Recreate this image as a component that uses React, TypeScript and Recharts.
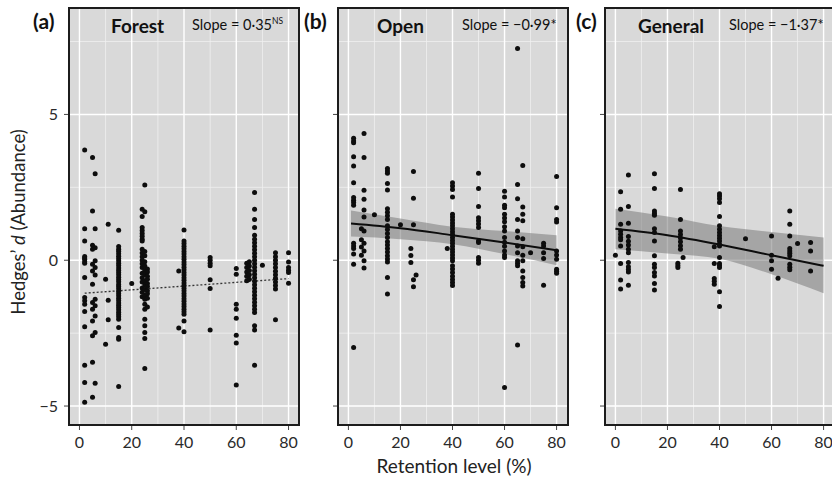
import { ComposedChart, Scatter, Line, Area, XAxis, YAxis, CartesianGrid } from "recharts";

const FONT = "Lato, 'Open Sans', sans-serif";

const xTicks = [0, 20, 40, 60, 80];
const xMinor = [10, 30, 50, 70];
const yTicks = [-5, 0, 5];
const yMinor = [-2.5, 2.5, 7.5];

// columns of points: [retention %, effect sizes]
const forestCols: [number, number[]][] = [
  [2, [3.78, 1.08, 0.66, 0.13, 0.03, -0.1, -0.05, 0.08, -0.59, -1.28, -1.39, -1.51, -1.76, -2.28, -3.6, -4.19, -4.87]],
  [5, [3.52, 1.69, 0.51, 0.38, -0.14, -0.37, -0.82, -1.45, -1.68, -2.08, -2.59, -3.5, -4.7]],
  [6, [2.97, 1.08, 0.43, -0.02, -0.25, -0.51, -1.34, -1.56, -1.91, -2.48, -4.22]],
  [10, [-0.65, -2.88]],
  [11, [1.23, -1.37, -2.04]],
  [15, [1.03, 0.47, 0.38, 0.31, 0.22, 0.14, 0.06, -0.02, -0.1, -0.18, -0.27, -0.34, -0.42, -0.5, -0.58, -0.66, -0.74, -0.83, -0.9, -0.98, -1.06, -1.14, -1.22, -1.3, -1.38, -1.47, -1.54, -1.62, -1.7, -1.78, -1.86, -1.94, -2.02, -2.31, -2.65, -2.71, -4.33]],
  [20, [-0.8]],
  [24, [1.75, 1.5, 1.12, 1.02, 0.92, 0.82, 0.72, 0.66, 0.38, 0.25, 0.12, 0.0, -0.12, -0.25, -0.45, -0.6, -0.75, -0.95, -1.1, -1.25]],
  [25, [2.58, 1.66, 0.3, 0.15, -0.05, -0.2, -0.35, -0.5, -0.7, -0.85, -1.0, -1.2, -1.34, -1.51, -1.68, -2.02, -2.25, -2.48, -2.68, -3.71]],
  [26, [-0.3, -0.4, -0.55, -0.65, -0.8, -0.9, -1.05, -1.15, -1.3, -1.6]],
  [38, [-0.37, -2.32]],
  [40, [1.04, 0.66, 0.57, 0.48, 0.39, 0.3, 0.21, 0.12, 0.03, -0.06, -0.15, -0.24, -0.33, -0.42, -0.51, -0.6, -0.69, -0.78, -0.87, -0.96, -1.05, -1.14, -1.23, -1.32, -1.41, -1.5, -1.59, -1.68, -1.77, -1.85, -2.08, -2.45]],
  [50, [0.09, 0.0, -0.1, -0.19, -0.67, -0.97, -2.39]],
  [60, [-0.28, -0.48, -1.51, -1.68, -1.99, -2.57, -2.84, -4.28]],
  [64, [-0.1, -0.25, -0.4, -0.55, -0.7]],
  [65, [-0.05, -0.2, -0.35, -0.5, -0.65]],
  [67, [2.32, 1.75, 1.4, 1.12, 0.86, 0.72, 0.6, 0.48, 0.36, 0.24, 0.12, 0.0, -0.12, -0.24, -0.36, -0.48, -0.6, -0.72, -0.84, -0.96, -1.08, -1.2, -1.32, -1.44, -1.56, -1.68, -1.79, -2.25, -2.39, -3.6]],
  [70, [-0.17]],
  [75, [0.26, 0.12, 0.0, -0.12, -0.25, -0.38, -0.5, -0.62, -0.75, -0.87, -0.99, -2.04]],
  [80, [0.26, -0.06, -0.25, -0.34, -0.42, -0.79]],
];

const openCols: [number, number[]][] = [
  [2, [4.18, 4.09, 4.03, 3.55, 3.23, 2.66, 2.15, 2.06, 1.98, 1.89, 0.58, 0.49, 0.4, 0.21, -0.14, -2.99]],
  [5, [1.08, 0.7, 0.45, 0.17]],
  [6, [4.35, 3.52, 2.4, 2.09, 1.72, 1.48, 1.0, 0.58, 0.32, -0.02, -0.27]],
  [10, [1.56]],
  [15, [3.15, 3.06, 2.98, 2.63, 2.41, 1.77, 1.65, 1.53, 1.4, 1.18, 1.05, 0.92, 0.78, 0.63, 0.52, 0.4, 0.28, 0.15, 0.04, -0.06, -0.59, -1.16]],
  [20, [1.22]],
  [24, [0.4, 0.16, -0.08]],
  [25, [3.04, 2.13, 1.22, -0.67, -0.91]],
  [26, [-0.51]],
  [38, [0.4]],
  [40, [2.66, 2.55, 2.43, 2.17, 1.58, 1.48, 1.38, 1.28, 1.18, 1.08, 0.98, 0.88, 0.78, 0.68, 0.58, 0.48, 0.38, 0.28, 0.18, 0.08, -0.02, -0.19, -0.3, -0.42, -0.55, -0.66, -0.76, -0.87]],
  [50, [2.98, 2.46, 1.84, 1.46, 1.35, 1.24, 1.12, 0.66, 0.61, 0.09, 0.0, -0.1]],
  [60, [2.37, 2.17, 1.89, 1.8, 1.58, 1.45, 1.32, 1.15, 1.0, 0.78, 0.62, 0.48, 0.32, 0.18, 0.09, -4.36]],
  [65, [7.26, 2.6, 2.11, 1.4, 1.0, 0.78, 0.49, 0.26, -0.02, -0.1, -0.19, -2.91]],
  [67, [3.25, 1.83, 1.58, 1.35, 0.74, 0.46, 0.17, -0.02, -0.37, -0.59, -0.76, -0.88]],
  [70, [0.26]],
  [75, [0.58, 0.49, 0.26, 0.06, -0.86]],
  [80, [2.87, 1.8, 1.4, 1.31, 0.32, 0.18, 0.03, -0.31, -0.38, -0.45]],
];

const generalCols: [number, number[]][] = [
  [0, [0.17]],
  [2, [2.35, 1.75, 1.23, 1.0, 0.89, 0.78, 0.7, 0.49, -0.11, -0.68, -0.99]],
  [5, [2.92, 1.84, 1.27, 0.81, 0.65, 0.52, 0.38, 0.26, -0.08, -0.22, -0.32, -0.4, -0.86]],
  [15, [2.97, 2.46, 1.69, 1.61, 1.54, 1.08, 0.95, 0.66, 0.15, -0.14, -0.25, -0.42, -0.54, -0.8, -1.02]],
  [24, [-0.1, -0.18, -0.25]],
  [25, [2.43, 1.4, 1.0, 0.88, 0.76, 0.63, 0.5, 0.38]],
  [26, [0.09]],
  [38, [0.46, -0.11, -0.63, -0.72, -0.82]],
  [40, [2.28, 2.2, 2.11, 1.98, 1.5, 1.18, 1.06, 0.95, 0.85, 0.75, 0.66, 0.55, 0.49, 0.09, -0.11, -0.18, -0.25, -1.08, -1.59]],
  [50, [0.74]],
  [60, [0.83, 0.17, -0.02, -0.31]],
  [62.5, [-0.62]],
  [67, [1.69, 1.23, 0.83, 0.4, 0.32, 0.24, 0.15, -0.14, -0.24, -0.33]],
  [70, [0.57]],
  [75, [0.61, 0.32, -0.37]],
];

// fitted lines and 95% bands
const forestFitX = [2, 80];
const forestFit = [-1.13, -0.63];

const openFitX = [1, 20, 40, 60, 80];
const openFit = [1.26, 1.1, 0.86, 0.61, 0.34];
const openLo = [0.81, 0.72, 0.55, 0.21, -0.17];
const openHi = [1.71, 1.43, 1.15, 1.0, 0.86];

const generalFitX = [0, 20, 40, 60, 80];
const generalFit = [1.08, 0.86, 0.54, 0.17, -0.19];
const generalLo = [0.38, 0.23, 0.05, -0.48, -1.13];
const generalHi = [1.77, 1.5, 1.17, 0.97, 0.78];

const toPoints = (cols: [number, number[]][]) =>
  cols.flatMap(([x, ys]) => ys.map((y) => ({ x, y })));

const Dot = (p: any) => <circle cx={p.cx} cy={p.cy} r={2.5} fill="#0d0d0d" />;

type PanelProps = {
  left: number;
  yw: number;
  width: number;
  labels: boolean;
  points: { x: number; y: number }[];
  fit: { x: number; fit: number; band?: number[] }[];
  dotted?: boolean;
};

function Panel({ left, yw, width, labels, points, fit, dotted }: PanelProps) {
  return (
    <div style={{ position: "absolute", left, top: 0 }}>
      <ComposedChart width={width} height={455} data={fit} margin={{ top: 8, right: 1, bottom: 0, left: 0 }}>
        <CartesianGrid fill="#d9d9d9" stroke="#f0f0f0" strokeWidth={0.8} horizontalValues={yMinor} verticalValues={xMinor} />
        <CartesianGrid stroke="#ffffff" strokeWidth={1.4} horizontalValues={yTicks} verticalValues={xTicks} />
        <XAxis
          type="number"
          dataKey="x"
          domain={[-4, 84]}
          ticks={xTicks}
          height={30}
          axisLine={false}
          tickSize={5}
          tickMargin={7}
          tickLine={{ stroke: "#444" }}
          tick={{ fill: "#2a2a2a", fontSize: 16, fontFamily: FONT }}
          allowDataOverflow
        />
        <YAxis
          type="number"
          domain={[-5.65, 8.65]}
          ticks={yTicks}
          width={yw}
          axisLine={false}
          tickSize={5}
          tickMargin={6}
          tickLine={{ stroke: "#444" }}
          tick={{ fill: "#2a2a2a", fontSize: 16, fontFamily: FONT }}
          tickFormatter={(v: number) => (labels ? String(v).replace("-", "\u2212") : "")}
          allowDataOverflow
        />
        {fit[0].band && (
          <Area type="monotone" dataKey="band" stroke="none" fill="#7a7a7a" fillOpacity={0.55} isAnimationActive={false} />
        )}
        <Scatter data={points} dataKey="y" shape={Dot} isAnimationActive={false} />
        <Line
          type="monotone"
          dataKey="fit"
          stroke={dotted ? "#333" : "#0d0d0d"}
          strokeWidth={dotted ? 1.3 : 2}
          strokeDasharray={dotted ? "2 2" : undefined}
          dot={false}
          isAnimationActive={false}
        />
      </ComposedChart>
    </div>
  );
}

export default function App() {
  const forestFitData = forestFitX.map((x, i) => ({ x, fit: forestFit[i] }));
  const openFitData = openFitX.map((x, i) => ({ x, fit: openFit[i], band: [openLo[i], openHi[i]] }));
  const generalFitData = generalFitX.map((x, i) => ({ x, fit: generalFit[i], band: [generalLo[i], generalHi[i]] }));

  const title = { fontFamily: FONT, fontWeight: 700, fill: "#111" } as const;
  const slope = { fontFamily: FONT, fontSize: 14.5, fill: "#111" } as const;

  return (
    <div style={{ position: "absolute", left: 0, top: 0, width: 832, height: 479, overflow: "hidden", background: "#fff" }}>
      <Panel left={0} yw={69} width={300} labels points={toPoints(forestCols)} fit={forestFitData} dotted />
      <Panel left={300} yw={38} width={268} labels={false} points={toPoints(openCols)} fit={openFitData} />
      <Panel left={570} yw={35} width={265} labels={false} points={toPoints(generalCols)} fit={generalFitData} />
      <svg width={832} height={479} style={{ position: "absolute", left: 0, top: 0, pointerEvents: "none" }}>
        <rect x={69} y={8} width={230} height={417} fill="none" stroke="#1c1c1c" strokeWidth={2} />
        <rect x={338} y={8} width={230} height={417} fill="none" stroke="#1c1c1c" strokeWidth={2} />
        <rect x={605} y={8} width={230} height={417} fill="none" stroke="#1c1c1c" strokeWidth={2} />

        <text x={33} y={29} fontSize={21} {...title}>(a)</text>
        <text x={111} y={33} fontSize={19} {...title}>Forest</text>
        <text x={192} y={30} {...slope}>
          Slope = 0·35<tspan fontSize={8.5} dy={-6}>NS</tspan>
        </text>

        <text x={304} y={29} fontSize={21} {...title}>(b)</text>
        <text x={377} y={33} fontSize={19} {...title}>Open</text>
        <text x={462} y={30} {...slope}>Slope = −0·99*</text>

        <text x={576} y={29} fontSize={21} {...title}>(c)</text>
        <text x={638} y={33} fontSize={19} {...title}>General</text>
        <text x={729} y={30} {...slope}>Slope = −1·37*</text>

        <text x={454} y={473} textAnchor="middle" fontFamily={FONT} fontSize={19} fill="#222">
          Retention level (%)
        </text>
        <text x={25} y={222} textAnchor="middle" transform="rotate(-90 25 222)" fontFamily={FONT} fontSize={18.5} fill="#222">
          Hedges’ <tspan fontStyle="italic">d</tspan> (Abundance)
        </text>
      </svg>
    </div>
  );
}
